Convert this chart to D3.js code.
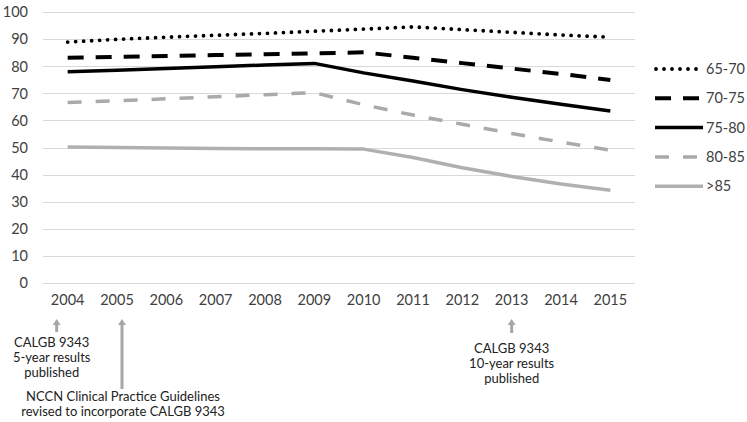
<!DOCTYPE html>
<html><head><meta charset="utf-8">
<script src="https://cdn.jsdelivr.net/npm/d3@7"></script>
<style>body{margin:0;background:#fff;}svg{display:block;font-family:Lato,"Open Sans",sans-serif;}</style>
</head><body>
<svg id="chart" width="747" height="422"></svg>
<script>
const years = ["2004","2005","2006","2007","2008","2009","2010","2011","2012","2013","2014","2015"];
const yTicks = [0,10,20,30,40,50,60,70,80,90,100];
const seriesNames = ["65-70","70-75","75-80","80-85",">85"];
const s6570 = [89.0,90.0,90.8,91.5,92.2,93.0,93.8,94.6,93.6,92.6,91.6,90.8];
const s7075 = [83.2,83.5,83.8,84.2,84.5,84.8,85.2,83.2,81.2,79.2,77.2,75.0];
const s7580 = [78.0,78.6,79.2,79.9,80.5,81.1,77.6,74.6,71.4,68.6,66.0,63.5];
const s8085 = [66.6,67.3,68.0,68.8,69.5,70.3,65.8,62.0,58.6,55.2,52.0,49.0];
const sOver85 = [50.2,50.0,49.8,49.6,49.5,49.5,49.4,46.3,42.5,39.3,36.5,34.2];
const annotations = [
  {year:"2004", lines:["CALGB 9343","5-year results","published"]},
  {year:"2005", lines:["NCCN Clinical Practice Guidelines","revised to incorporate CALGB 9343"]},
  {year:"2013", lines:["CALGB 9343","10-year results","published"]}
];

const svg = d3.select("#chart");
const x = d3.scaleBand().domain(years).range([43, 635]).padding(0);
const y = d3.scaleLinear().domain([0,100]).range([282.7, 12.3]);
const cx = d => x(d) + x.bandwidth()/2;

// gridlines
svg.append("g").selectAll("line").data(yTicks).join("line")
  .attr("x1", 43).attr("x2", 635)
  .attr("y1", d=>Math.round(y(d))+0.5).attr("y2", d=>Math.round(y(d))+0.5)
  .attr("stroke", "#d9d9d9").attr("stroke-width", 1);

// y axis labels
const yAxis = d3.axisLeft(y).tickValues(yTicks).tickSize(0).tickPadding(0);
const gy = svg.append("g").attr("transform","translate(28,0)").call(yAxis);
gy.select(".domain").remove();
gy.selectAll("text").attr("font-size","14.5px").attr("fill","#404040").attr("font-family","Lato, 'Open Sans', sans-serif");

// x axis labels
const xAxis = d3.axisBottom(x).tickSize(0).tickPadding(0);
const gx = svg.append("g").attr("transform","translate(0,295)").call(xAxis);
gx.select(".domain").remove();
gx.selectAll("text").attr("font-size","14.5px").attr("fill","#404040").attr("font-family","Lato, 'Open Sans', sans-serif");

const styles = {
  "65-70": {data:s6570, color:"#000", width:3.8, dash:"0,8", cap:"round"},
  "70-75": {data:s7075, color:"#000", width:4, dash:"16,12", cap:"butt"},
  "75-80": {data:s7580, color:"#000", width:3.5, dash:null, cap:"butt"},
  "80-85": {data:s8085, color:"#aaaaaa", width:3.5, dash:"14,14", cap:"butt"},
  ">85":   {data:sOver85, color:"#b0b0b0", width:3.5, dash:null, cap:"butt"}
};

const line = d3.line().x((d,i)=>cx(years[i])).y(d=>y(d));
seriesNames.slice().reverse().forEach(name=>{
  const s = styles[name];
  svg.append("path").datum(s.data)
    .attr("d", line).attr("fill","none")
    .attr("stroke", s.color).attr("stroke-width", s.width)
    .attr("stroke-dasharray", s.dash).attr("stroke-linecap", s.cap)
    .attr("stroke-linejoin","round");
});

// legend
const lg = svg.append("g");
seriesNames.forEach((name,i)=>{
  const s = styles[name];
  const yy = 69 + i*29.3;
  lg.append("line").attr("x1", name==="65-70"?656:655).attr("x2", 703).attr("y1", yy).attr("y2", yy)
    .attr("stroke", s.color).attr("stroke-width", s.width)
    .attr("stroke-dasharray", s.dash).attr("stroke-linecap", s.cap);
  lg.append("text").attr("x", 706).attr("y", yy).attr("dy","0.35em")
    .attr("font-size","14.5px").attr("fill","#404040").text(name);
});

// annotations
const layout = {
  "2004": {dx:-11, len:13, tx:-5, ty:342},
  "2005": {dx:5, len:70, tx:1, ty:396},
  "2013": {dx:0, len:14, tx:0, ty:348}
};
annotations.forEach(a=>{
  const L = layout[a.year];
  const g = svg.append("g");
  const ax = cx(a.year) + L.dx;
  const y0 = 319;
  g.append("line").attr("x1", ax).attr("x2", ax).attr("y1", y0+5).attr("y2", y0+L.len)
    .attr("stroke","#a6a6a6").attr("stroke-width",3);
  g.append("path").attr("d", `M${ax-4},${y0+6} L${ax},${y0} L${ax+4},${y0+6} Z`).attr("fill","#a6a6a6");
  a.lines.forEach((t,i)=>{
    g.append("text").attr("x", ax + L.tx).attr("y", L.ty + i*15)
      .attr("dy","0.35em").attr("text-anchor","middle")
      .attr("font-size","13px").attr("fill","#222").text(t);
  });
});
</script>
</body></html>
